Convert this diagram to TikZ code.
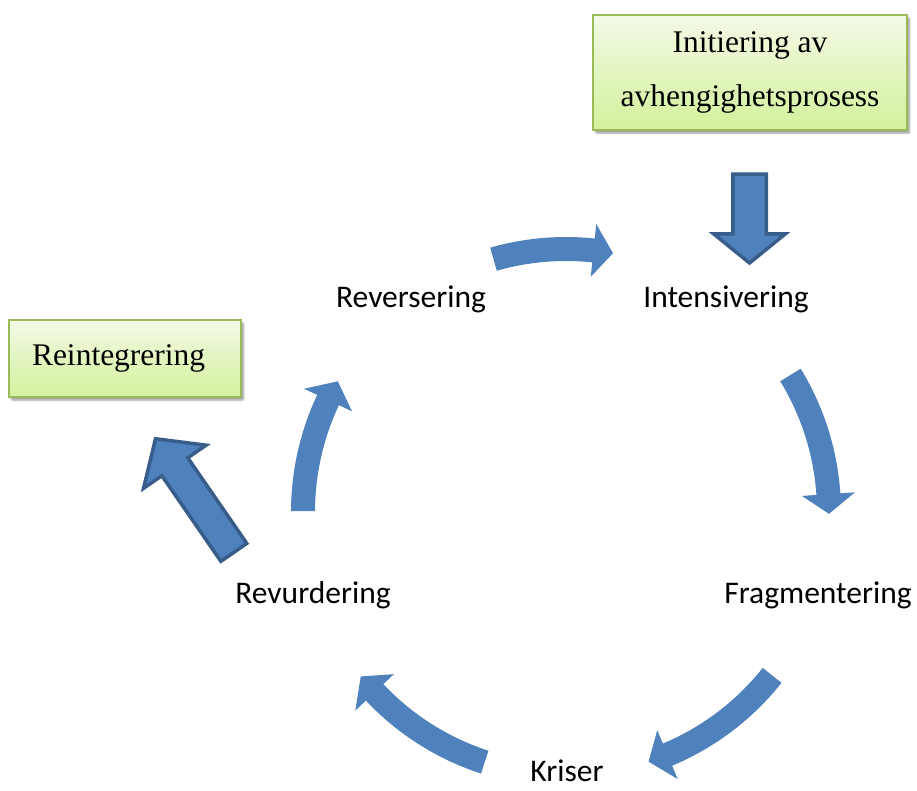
\documentclass[tikz,border=0pt]{standalone}
\usepackage{fontspec}
\setmainfont{Liberation Serif}
\newfontfamily\labelfont{Carlito}
\usetikzlibrary{calc,shadows.blur}
\definecolor{arrowblue}{HTML}{4F81BD}
\definecolor{arrowedge}{HTML}{385D8A}
\definecolor{boxedge}{HTML}{9BBB59}
\definecolor{boxtop}{HTML}{F3FAE6}
\definecolor{boxbottom}{HTML}{D3F19B}
\tikzset{
  stagelabel/.style={font=\labelfont\fontsize{31.5}{36}\selectfont, anchor=base, inner sep=0pt},
  greenbox/.style={draw=boxedge, line width=1.5pt, top color=boxtop, bottom color=boxbottom,
    blur shadow={shadow xshift=2.5pt, shadow yshift=-3pt, shadow blur steps=6, shadow blur extra rounding=1pt},
    font=\fontsize{31.5}{54}\selectfont, inner sep=0pt},
  cyc/.style={fill=arrowblue},
  blockarrow/.style={fill=arrowblue, draw=arrowedge, line width=3.5pt, line join=miter}
}
% curved cycle arrow: #1 tail angle, #2 head-base angle, #3 tip angle
\newcommand\cyclearrow[3]{%
  \fill[cyc] ($(c)+(#1:275)$) arc[start angle=#1, end angle=#2, radius=275]
    -- ($(c)+(#2:289.5)$) -- ($(c)+(#3:263)$) -- ($(c)+(#2:236.5)$)
    -- ($(c)+(#2:251)$) arc[start angle=#2, end angle=#1, radius=251] -- cycle;}
\begin{document}
\begin{tikzpicture}[x=1pt,y=1pt]
\useasboundingbox (0,0) rectangle (917,-790);
\coordinate (c) at (566,-512);

% boxes
\node[greenbox, minimum width=314pt, minimum height=115pt, align=center] (init) at (750,-72.5)
  {Initiering av\\avhengighetsprosess};
\node[greenbox, minimum width=232pt, minimum height=77pt, text width=186pt, align=left] (reint) at (125,-358.5)
  {Reintegrering};

% stage labels
\node[stagelabel] (reversering) at (411,-307) {Reversering};
\node[stagelabel] (intensivering) at (726,-307) {Intensivering};
\node[stagelabel] (fragmentering) at (818,-603) {Fragmentering};
\node[stagelabel] (kriser) at (567,-781) {Kriser};
\node[stagelabel] (revurdering) at (313,-603) {Revurdering};

% cycle arrows
\cyclearrow{106}{84}{79.7}
\cyclearrow{31.4}{3.9}{-0.4}
\cyclearrow{-38.4}{-67.3}{-71.7}
\cyclearrow{-108}{-136.7}{-141.3}
\cyclearrow{179.8}{154.8}{150.2}

% block arrows
\begin{scope}[shift={(749.5,-174)}, rotate=-90]
  \draw[blockarrow] (0,-16.75) -- (59.75,-16.75) -- (59.75,-36) -- (89,0) -- (59.75,36) -- (59.75,16.75) -- (0,16.75) -- cycle;
\end{scope}
\begin{scope}[shift={(235,-554)}, rotate=124.6]
  \draw[blockarrow] (2,-15.75) -- (106,-15.75) -- (106,-38) -- (140,0) -- (106,38) -- (106,15.75) -- (2,15.75) -- cycle;
\end{scope}
\end{tikzpicture}
\end{document}
